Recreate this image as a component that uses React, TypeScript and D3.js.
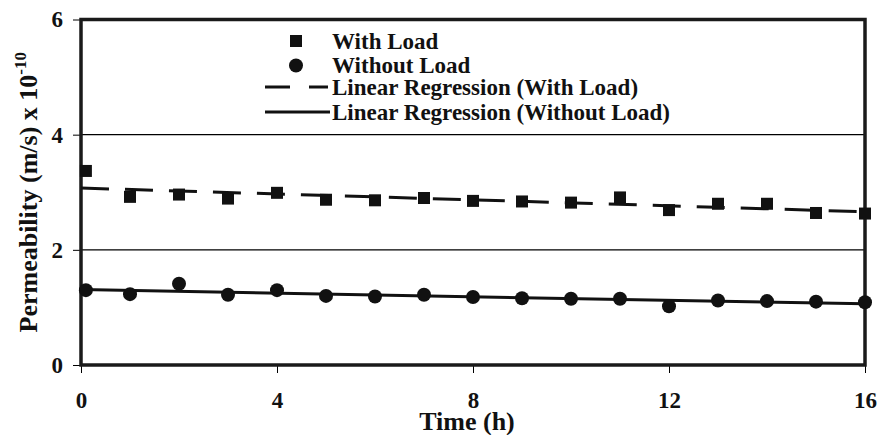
import React, { useEffect, useRef } from 'react';
import * as d3 from 'd3';

// time (h) of each reading
const hours = [0.1, 1, 2, 3, 4, 5, 6, 7, 8, 9, 10, 11, 12, 13, 14, 15, 16];
// permeability (m/s) x 1e-10
const withLoad = [3.37, 2.92, 2.96, 2.89, 2.99, 2.87, 2.86, 2.9, 2.85, 2.84, 2.82, 2.91, 2.69, 2.8, 2.8, 2.64, 2.63];
const withoutLoad = [1.3, 1.23, 1.41, 1.22, 1.3, 1.2, 1.19, 1.22, 1.18, 1.16, 1.15, 1.15, 1.02, 1.12, 1.11, 1.1, 1.09];
const xTicks = [0, 4, 8, 12, 16];
const yTicks = [0, 2, 4, 6];
const legendLabels = [
  'With Load',
  'Without Load',
  'Linear Regression (With Load)',
  'Linear Regression (Without Load)',
];

const FONT = '"Liberation Serif", "Times New Roman", serif';
const INK = '#111';

// least squares fit, returns [slope, intercept]
const fit = (xs: number[], ys: number[]) => {
  const mx = d3.mean(xs) as number;
  const my = d3.mean(ys) as number;
  let num = 0;
  let den = 0;
  xs.forEach((x, i) => {
    num += (x - mx) * (ys[i] - my);
    den += (x - mx) * (x - mx);
  });
  const slope = num / den;
  return [slope, my - slope * mx];
};

const App = () => {
  const chartRef = useRef<SVGSVGElement>(null);

  useEffect(() => {
    const svg = d3.select(chartRef.current);
    svg.selectAll('*').remove();

    const width = 879;
    const height = 435;
    const margin = { top: 19.5, right: 14, bottom: 70, left: 81 };

    const x = d3.scaleLinear().domain([0, 16]).range([margin.left, width - margin.right]);
    const y = d3.scaleLinear().domain([0, 6]).range([height - margin.bottom, margin.top]);

    // grid lines
    svg
      .append('g')
      .selectAll('line')
      .data([2, 4])
      .join('line')
      .attr('x1', x(0))
      .attr('x2', x(16))
      .attr('y1', (d) => y(d))
      .attr('y2', (d) => y(d))
      .attr('stroke', '#000')
      .attr('stroke-width', 1.2);

    // axes
    const xAxis = svg
      .append('g')
      .attr('transform', `translate(0,${y(0)})`)
      .call(d3.axisBottom(x).tickValues(xTicks).tickSize(8).tickPadding(19).tickFormat(d3.format('d')));
    const yAxis = svg
      .append('g')
      .attr('transform', `translate(${x(0)},0)`)
      .call(d3.axisLeft(y).tickValues(yTicks).tickSize(8).tickPadding(10).tickFormat(d3.format('d')));

    [xAxis, yAxis].forEach((g) => {
      g.attr('font-family', FONT);
      g.select('.domain').remove();
      g.selectAll('line').attr('stroke', '#000').attr('stroke-width', 1);
      g.selectAll('text')
        .attr('font-family', FONT)
        .attr('font-weight', 'bold')
        .attr('font-size', 23)
        .attr('fill', INK);
    });

    // frame
    svg
      .append('rect')
      .attr('x', x(0))
      .attr('y', y(6))
      .attr('width', x(16) - x(0))
      .attr('height', y(0) - y(6))
      .attr('fill', 'none')
      .attr('stroke', '#1a1a1a')
      .attr('stroke-width', 3.5);

    // regression lines, fitted from the readings
    const [s1, b1] = fit(hours, withLoad);
    const [s2, b2] = fit(hours, withoutLoad);

    svg
      .append('line')
      .attr('x1', x(0))
      .attr('x2', x(16))
      .attr('y1', y(b1))
      .attr('y2', y(b1 + s1 * 16))
      .attr('stroke', INK)
      .attr('stroke-width', 3)
      .attr('stroke-dasharray', '28,16');
    svg
      .append('line')
      .attr('x1', x(0))
      .attr('x2', x(16))
      .attr('y1', y(b2))
      .attr('y2', y(b2 + s2 * 16))
      .attr('stroke', INK)
      .attr('stroke-width', 3);

    // points
    svg
      .append('g')
      .selectAll('rect')
      .data(hours)
      .join('rect')
      .attr('x', (d) => x(d) - 6)
      .attr('y', (d, i) => y(withLoad[i]) - 6)
      .attr('width', 12)
      .attr('height', 12)
      .attr('fill', INK);
    svg
      .append('g')
      .selectAll('circle')
      .data(hours)
      .join('circle')
      .attr('cx', (d) => x(d))
      .attr('cy', (d, i) => y(withoutLoad[i]))
      .attr('r', 7)
      .attr('fill', INK);

    // legend
    const legend = svg.append('g');
    const rowY = [41, 65.5, 87, 112];
    legend.append('rect').attr('x', 290).attr('y', rowY[0] - 6).attr('width', 12).attr('height', 12).attr('fill', INK);
    legend.append('circle').attr('cx', 296).attr('cy', rowY[1]).attr('r', 7).attr('fill', INK);
    legend
      .append('line')
      .attr('x1', 265)
      .attr('x2', 328)
      .attr('y1', rowY[2])
      .attr('y2', rowY[2])
      .attr('stroke', INK)
      .attr('stroke-width', 3)
      .attr('stroke-dasharray', '25,19');
    legend
      .append('line')
      .attr('x1', 265)
      .attr('x2', 330)
      .attr('y1', rowY[3])
      .attr('y2', rowY[3])
      .attr('stroke', INK)
      .attr('stroke-width', 3);
    legend
      .selectAll('text')
      .data(legendLabels)
      .join('text')
      .attr('x', 332)
      .attr('y', (d, i) => rowY[i] + 7.5)
      .attr('font-family', FONT)
      .attr('font-weight', 'bold')
      .attr('font-size', 23)
      .attr('fill', INK)
      .text((d) => d);

    // axis titles
    svg
      .append('text')
      .attr('x', (x(0) + x(16)) / 2 - 6)
      .attr('y', 430)
      .attr('text-anchor', 'middle')
      .attr('font-family', FONT)
      .attr('font-weight', 'bold')
      .attr('font-size', 26)
      .attr('fill', INK)
      .text('Time (h)');

    const yTitle = svg
      .append('text')
      .attr('transform', `translate(37,${(y(0) + y(6)) / 2}) rotate(-90)`)
      .attr('text-anchor', 'middle')
      .attr('font-family', FONT)
      .attr('font-weight', 'bold')
      .attr('font-size', 26)
      .attr('fill', INK);
    yTitle.append('tspan').text('Permeability (m/s) x 10');
    yTitle.append('tspan').attr('dy', -11).attr('font-size', 17).text('-10');
  }, []);

  return (
    <div style={{ position: 'absolute', left: 0, top: 0, width: 879, height: 435, background: 'white' }}>
      <svg ref={chartRef} width={879} height={435} style={{ display: 'block' }}></svg>
    </div>
  );
};

export default App;
